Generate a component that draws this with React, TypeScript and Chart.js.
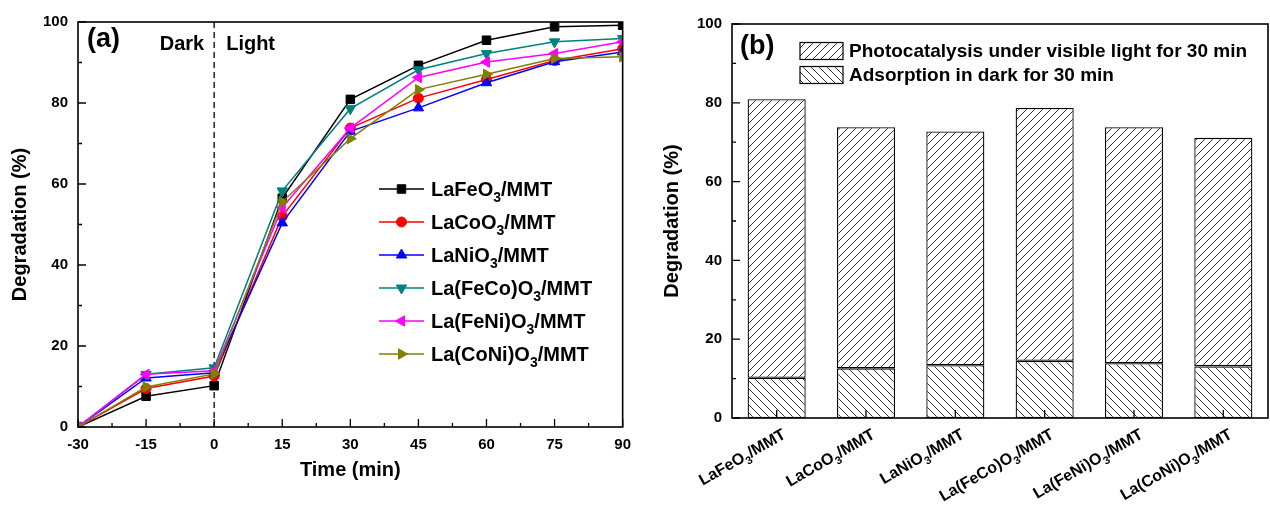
import React, { useEffect, useRef } from 'react';
import { Chart, registerables } from 'chart.js';

Chart.register(...registerables);

const FONT = '"Liberation Sans", Arial, sans-serif';

// ---------- Panel (a) data ----------
const TIMES = [-30, -15, 0, 15, 30, 45, 60, 75, 90];
const SERIES_NAMES = [
  'LaFeO3/MMT',
  'LaCoO3/MMT',
  'LaNiO3/MMT',
  'La(FeCo)O3/MMT',
  'La(FeNi)O3/MMT',
  'La(CoNi)O3/MMT',
];
const LAFEO3 = [0, 7.6, 10.2, 56.5, 80.9, 89.3, 95.5, 98.8, 99.2];
const LACOO3 = [0, 9.5, 12.6, 52.0, 73.8, 81.2, 85.8, 90.5, 93.4];
const LANIO3 = [0, 12.1, 13.4, 50.4, 73.0, 78.8, 85.0, 90.2, 92.6];
const LAFECO = [0, 13.0, 14.6, 58.3, 78.6, 88.2, 92.2, 95.1, 95.9];
const LAFENI = [0, 13.0, 13.9, 54.2, 73.8, 86.3, 90.1, 92.2, 95.1];
const LACONI = [0, 9.9, 13.1, 55.6, 71.2, 83.3, 87.1, 91.0, 91.4];
const SERIES_VALUES = [LAFEO3, LACOO3, LANIO3, LAFECO, LAFENI, LACONI];
const SERIES_COLORS = ['#000000', '#ff0000', '#0000ff', '#008080', '#ff00ff', '#808000'];
const SERIES_STYLES = ['rect', 'circle', 'triangle', 'triangle', 'triangle', 'triangle'];
const SERIES_ROT = [0, 0, 0, 180, 270, 90];
const SERIES_RADIUS = [6, 5, 6, 6, 6, 6];
const DIVIDER_TIME = 0;
const X_MIN = -30, X_MAX = 90, X_STEP = 15;
const Y_MIN = 0, Y_MAX = 100, Y_STEP = 20;

// ---------- Panel (b) data ----------
const CATEGORIES = SERIES_NAMES;
const ADSORPTION = [10.2, 12.6, 13.4, 14.5, 13.9, 13.1];
const PHOTOCATALYSIS = [70.7, 61.2, 59.3, 64.2, 59.9, 58.0];
const BAR_LEGEND = ['Photocatalysis under visible light for 30 min', 'Adsorption in dark for 30 min'];

function drawRich(ctx: CanvasRenderingContext2D, text: string, x: number, y: number, size: number, align: 'left' | 'right') {
  const parts = text.split(/(\d+)/).filter((s) => s.length).map((s) => ({ s, sub: /^\d+$/.test(s) }));
  const main = `bold ${size}px ${FONT}`;
  const sub = `bold ${Math.round(size * 0.68)}px ${FONT}`;
  let w = 0;
  for (const p of parts) {
    ctx.font = p.sub ? sub : main;
    w += ctx.measureText(p.s).width;
  }
  let cx = align === 'right' ? x - w : x;
  ctx.textAlign = 'left';
  ctx.textBaseline = 'alphabetic';
  for (const p of parts) {
    ctx.font = p.sub ? sub : main;
    ctx.fillText(p.s, cx, p.sub ? y + size * 0.3 : y);
    cx += ctx.measureText(p.s).width;
  }
}

function drawMarker(ctx: CanvasRenderingContext2D, style: string, rotDeg: number, x: number, y: number, r: number, color: string) {
  ctx.save();
  ctx.fillStyle = color;
  ctx.strokeStyle = color;
  ctx.lineWidth = 1;
  ctx.beginPath();
  if (style === 'rect') {
    const s = r * Math.SQRT1_2;
    ctx.rect(x - s, y - s, 2 * s, 2 * s);
  } else if (style === 'circle') {
    ctx.arc(x, y, r, 0, Math.PI * 2);
  } else {
    let rad = (rotDeg * Math.PI) / 180;
    ctx.moveTo(x + Math.sin(rad) * r, y - Math.cos(rad) * r);
    rad += (2 * Math.PI) / 3;
    ctx.lineTo(x + Math.sin(rad) * r, y - Math.cos(rad) * r);
    rad += (2 * Math.PI) / 3;
    ctx.lineTo(x + Math.sin(rad) * r, y - Math.cos(rad) * r);
    ctx.closePath();
  }
  ctx.fill();
  ctx.stroke();
  ctx.restore();
}

function makeHatch(forward: boolean): CanvasPattern | string {
  const size = 8;
  const c = document.createElement('canvas');
  c.width = size;
  c.height = size;
  const g = c.getContext('2d');
  if (!g) return '#fff';
  g.fillStyle = '#fff';
  g.fillRect(0, 0, size, size);
  g.strokeStyle = '#333';
  g.lineWidth = 1;
  g.beginPath();
  if (forward) {
    g.moveTo(-2, size + 2); g.lineTo(size + 2, -2);
    g.moveTo(-2, 2); g.lineTo(2, -2);
    g.moveTo(size - 2, size + 2); g.lineTo(size + 2, size - 2);
  } else {
    g.moveTo(-2, -2); g.lineTo(size + 2, size + 2);
    g.moveTo(-2, size - 2); g.lineTo(2, size + 2);
    g.moveTo(size - 2, -2); g.lineTo(size + 2, 2);
  }
  g.stroke();
  const p = g.createPattern(c, 'repeat');
  return p || '#fff';
}

function drawFrame(ctx: CanvasRenderingContext2D, a: any) {
  ctx.save();
  ctx.strokeStyle = '#000';
  ctx.lineWidth = 1.6;
  ctx.strokeRect(a.left, a.top, a.right - a.left, a.bottom - a.top);
  ctx.restore();
}

const leftDecor = {
  id: 'leftDecor',
  beforeDatasetsDraw(chart: any) {
    const { ctx, chartArea: a, scales } = chart;
    const x0 = scales.x.getPixelForValue(DIVIDER_TIME);
    ctx.save();
    ctx.strokeStyle = '#000';
    ctx.lineWidth = 1.3;
    ctx.setLineDash([6, 4]);
    ctx.beginPath();
    ctx.moveTo(x0, a.top);
    ctx.lineTo(x0, a.bottom);
    ctx.stroke();
    ctx.restore();
  },
  afterDatasetsDraw(chart: any) {
    const { ctx, chartArea: a, scales } = chart;
    const { x, y } = scales;
    drawFrame(ctx, a);
    ctx.save();
    ctx.strokeStyle = '#000';
    ctx.lineWidth = 1.3;
    ctx.beginPath();
    for (let v = Y_MIN; v <= Y_MAX; v += Y_STEP / 2) {
      const len = (v - Y_MIN) % Y_STEP === 0 ? 8 : 4;
      const py = y.getPixelForValue(v);
      ctx.moveTo(a.left, py);
      ctx.lineTo(a.left + len, py);
    }
    for (let t = X_MIN; t <= X_MAX; t += X_STEP / 2) {
      const len = (t - X_MIN) % X_STEP === 0 ? 8 : 4;
      const px = x.getPixelForValue(t);
      ctx.moveTo(px, a.bottom);
      ctx.lineTo(px, a.bottom - len);
    }
    ctx.stroke();

    ctx.fillStyle = '#000';
    ctx.textBaseline = 'middle';
    ctx.font = `bold 27px ${FONT}`;
    ctx.textAlign = 'left';
    ctx.fillText('(a)', a.left + 9, 40);
    ctx.font = `bold 20px ${FONT}`;
    const x0 = x.getPixelForValue(DIVIDER_TIME);
    ctx.textAlign = 'right';
    ctx.fillText('Dark', x0 - 10, 44);
    ctx.textAlign = 'left';
    ctx.fillText('Light', x0 + 12, 44);

    // legend
    for (let i = 0; i < SERIES_NAMES.length; i++) {
      const cy = 189 + i * 33;
      ctx.strokeStyle = SERIES_COLORS[i];
      ctx.lineWidth = 1.5;
      ctx.beginPath();
      ctx.moveTo(379, cy);
      ctx.lineTo(424, cy);
      ctx.stroke();
      drawMarker(ctx, SERIES_STYLES[i], SERIES_ROT[i], 401.5, cy, SERIES_RADIUS[i], SERIES_COLORS[i]);
      ctx.fillStyle = '#000';
      drawRich(ctx, SERIES_NAMES[i], 431, cy + 7, 20, 'left');
    }
    ctx.restore();
  },
};

const rightDecor = {
  id: 'rightDecor',
  afterDatasetsDraw(chart: any) {
    const { ctx, chartArea: a, scales } = chart;
    const { x, y } = scales;
    drawFrame(ctx, a);
    ctx.save();
    ctx.strokeStyle = '#000';
    ctx.lineWidth = 1.3;
    ctx.beginPath();
    for (let v = Y_MIN; v <= Y_MAX; v += Y_STEP / 2) {
      const len = (v - Y_MIN) % Y_STEP === 0 ? 8 : 4;
      const py = y.getPixelForValue(v);
      ctx.moveTo(a.left, py);
      ctx.lineTo(a.left + len, py);
    }
    for (let i = 0; i < CATEGORIES.length; i++) {
      const px = x.getPixelForValue(i);
      ctx.moveTo(px, a.bottom);
      ctx.lineTo(px, a.bottom - 8);
    }
    ctx.stroke();

    ctx.fillStyle = '#000';
    ctx.font = `bold 27px ${FONT}`;
    ctx.textAlign = 'left';
    ctx.textBaseline = 'middle';
    ctx.fillText('(b)', a.left + 8, 47);

    // legend
    const patterns = [makeHatch(true), makeHatch(false)];
    const rows = [51, 75];
    for (let i = 0; i < 2; i++) {
      const top = rows[i] - 8.5;
      ctx.fillStyle = patterns[i] as any;
      ctx.fillRect(160, top, 43, 17);
      ctx.strokeStyle = '#000';
      ctx.lineWidth = 1.2;
      ctx.strokeRect(160, top, 43, 17);
      ctx.fillStyle = '#000';
      ctx.font = `bold 19px ${FONT}`;
      ctx.textAlign = 'left';
      ctx.textBaseline = 'middle';
      ctx.fillText(BAR_LEGEND[i], 209, rows[i] + 1);
    }

    // rotated category labels
    for (let i = 0; i < CATEGORIES.length; i++) {
      const px = x.getPixelForValue(i);
      ctx.save();
      ctx.translate(px + 4, a.bottom + 9);
      ctx.rotate(-Math.PI / 6);
      ctx.fillStyle = '#000';
      drawRich(ctx, CATEGORIES[i], 0, 12, 16, 'right');
      ctx.restore();
    }
    ctx.restore();
  },
};

const tickFont = { family: FONT, size: 15, weight: 'bold' as const };
const titleFont = { family: FONT, size: 20, weight: 'bold' as const };

export default function App() {
  const leftRef = useRef<HTMLCanvasElement>(null);
  const rightRef = useRef<HTMLCanvasElement>(null);

  useEffect(() => {
    if (!leftRef.current || !rightRef.current) return;
    const n = SERIES_NAMES.length;
    const left = new Chart(leftRef.current, {
      type: 'line',
      data: {
        datasets: SERIES_NAMES.map((name, i) => ({
          label: name,
          data: TIMES.map((t, k) => ({ x: t, y: SERIES_VALUES[i][k] })),
          borderColor: SERIES_COLORS[i],
          backgroundColor: SERIES_COLORS[i],
          pointBackgroundColor: SERIES_COLORS[i],
          pointBorderColor: SERIES_COLORS[i],
          pointStyle: SERIES_STYLES[i] as any,
          rotation: SERIES_ROT[i],
          pointRadius: SERIES_RADIUS[i],
          pointBorderWidth: 1,
          borderWidth: 1.5,
          tension: 0,
          fill: false,
          order: n - 1 - i,
        })),
      },
      options: {
        responsive: false,
        animation: false,
        layout: { padding: { top: 22, right: 8, bottom: 0, left: 0 } },
        plugins: { legend: { display: false }, tooltip: { enabled: false } },
        scales: {
          x: {
            type: 'linear',
            min: X_MIN,
            max: X_MAX,
            grid: { display: false, drawTicks: false },
            border: { display: false },
            ticks: { stepSize: X_STEP, padding: 9, color: '#000', font: tickFont, maxRotation: 0, autoSkip: false },
            title: { display: true, text: 'Time (min)', color: '#000', font: titleFont, padding: { top: 0, bottom: 25 } },
            afterFit: (s: any) => { s.height = 80; },
          },
          y: {
            min: Y_MIN,
            max: Y_MAX,
            grid: { display: false, drawTicks: false },
            border: { display: false },
            ticks: { stepSize: Y_STEP, padding: 10, color: '#000', font: tickFont },
            title: { display: true, text: 'Degradation (%)', color: '#000', font: titleFont, padding: { top: 8, bottom: 0 } },
            afterFit: (s: any) => { s.width = 78; },
          },
        },
      },
      plugins: [leftDecor],
    });

    const right = new Chart(rightRef.current, {
      type: 'bar',
      data: {
        labels: CATEGORIES,
        datasets: [
          {
            label: BAR_LEGEND[1],
            data: ADSORPTION,
            backgroundColor: makeHatch(false) as any,
            borderColor: '#000',
            borderWidth: 1.3,
            borderSkipped: false,
            barPercentage: 0.65,
            categoryPercentage: 1,
            stack: 's',
          },
          {
            label: BAR_LEGEND[0],
            data: PHOTOCATALYSIS,
            backgroundColor: makeHatch(true) as any,
            borderColor: '#000',
            borderWidth: 1.3,
            borderSkipped: false,
            barPercentage: 0.65,
            categoryPercentage: 1,
            stack: 's',
          },
        ],
      },
      options: {
        responsive: false,
        animation: false,
        layout: { padding: { top: 24, right: 2, bottom: 0, left: 0 } },
        plugins: { legend: { display: false }, tooltip: { enabled: false } },
        scales: {
          x: {
            stacked: true,
            grid: { display: false, drawTicks: false },
            border: { display: false },
            ticks: { display: false },
            afterFit: (s: any) => { s.height = 89; },
          },
          y: {
            stacked: true,
            min: Y_MIN,
            max: Y_MAX,
            grid: { display: false, drawTicks: false },
            border: { display: false },
            ticks: { stepSize: Y_STEP, padding: 10, color: '#000', font: tickFont },
            title: { display: true, text: 'Degradation (%)', color: '#000', font: titleFont, padding: { top: 20, bottom: 0 } },
            afterFit: (s: any) => { s.width = 92; },
          },
        },
      },
      plugins: [rightDecor],
    });

    return () => {
      left.destroy();
      right.destroy();
    };
  }, []);

  return (
    <div style={{ position: 'absolute', left: 0, top: 0, width: 1270, height: 507, background: '#fff', overflow: 'hidden' }}>
      <canvas ref={leftRef} width={640} height={507} style={{ position: 'absolute', left: 0, top: 0, display: 'block' }} />
      <canvas ref={rightRef} width={630} height={507} style={{ position: 'absolute', left: 640, top: 0, display: 'block' }} />
    </div>
  );
}
